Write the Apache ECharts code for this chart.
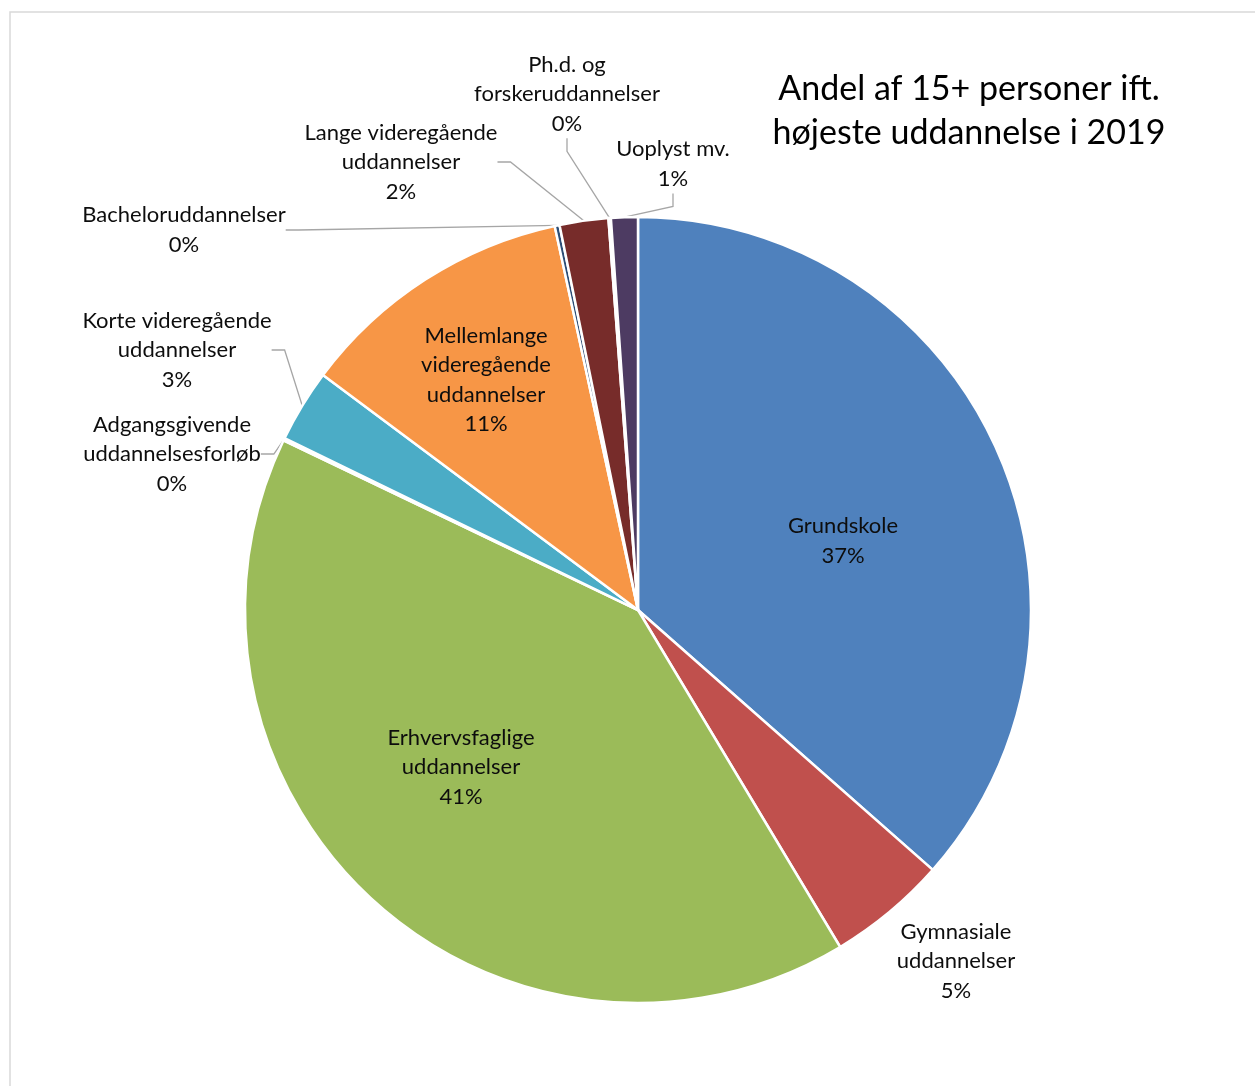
<!DOCTYPE html>
<html>
<head>
<meta charset="utf-8">
<script src="https://cdn.jsdelivr.net/npm/echarts@6/dist/echarts.min.js"></script>
<style>
html,body{margin:0;padding:0;background:#fff;}
#chart{width:1255px;height:1086px;}
</style>
</head>
<body>
<div id="chart"></div>
<script>
// Categories (label text as shown, with line breaks)
const categories = [
  'Grundskole',
  'Gymnasiale\nuddannelser',
  'Erhvervsfaglige\nuddannelser',
  'Adgangsgivende\nuddannelsesforløb',
  'Korte videregående\nuddannelser',
  'Mellemlange\nvideregående\nuddannelser',
  'Bacheloruddannelser',
  'Lange videregående\nuddannelser',
  'Ph.d. og\nforskeruddannelser',
  'Uoplyst mv.'
];
// Shares in percent
const shares = [36.5, 4.9, 40.7, 0.1, 3.0, 11.4, 0.2, 2.0, 0.1, 1.1];
const colors = ['#4F81BD', '#C0504D', '#9BBB59', '#8064A2', '#4BACC6', '#F79646', '#2C4D75', '#772C2A', '#5F7530', '#4D3B62'];
const titleText = 'Andel af 15+ personer ift.\nhøjeste uddannelse i 2019';

// label layout (text block centres) and label modes
const labelPos = [[843,541],[956,961],[461,767],[172,454],[177,350],[486,380],[184,230],[401,162],[567,94],[673,164]];
const insideIdx = [0, 2, 5];
const noLineIdx = [1];

const total = shares.reduce((a, b) => a + b, 0);
const FONT = 'Lato, "Open Sans", sans-serif';

const data = categories.map((name, i) => ({
  name: name,
  value: shares[i],
  itemStyle: { color: colors[i] },
  label: { position: insideIdx.includes(i) ? 'inside' : 'outside' },
  labelLine: { show: !(insideIdx.includes(i) || noLineIdx.includes(i)) }
}));

const chart = echarts.init(document.getElementById('chart'), null, { renderer: 'canvas' });
chart.setOption({
  animation: false,
  backgroundColor: '#ffffff',
  graphic: [{
    type: 'rect', silent: true, z: -1,
    shape: { x: 10, y: 12, width: 1300, height: 1200 },
    style: { fill: 'none', stroke: '#d9d9d9', lineWidth: 1.5 }
  }],
  title: {
    text: titleText,
    left: 964, top: 62, textAlign: 'center',
    textStyle: { fontFamily: FONT, fontSize: 34, fontWeight: 'normal', color: '#000', lineHeight: 44 }
  },
  series: [{
    type: 'pie',
    center: [638, 610],
    radius: [0, 393],
    startAngle: 90,
    clockwise: true,
    avoidLabelOverlap: false,
    itemStyle: { borderColor: '#ffffff', borderWidth: 2.5 },
    label: {
      fontFamily: FONT, fontSize: 22, color: '#0d0d0d', lineHeight: 29.5,
      formatter: p => p.name + '\n' + Math.round(p.value / total * 100) + '%'
    },
    labelLine: { length: 10, length2: 13, lineStyle: { color: '#a6a6a6', width: 1.3 } },
    labelLayout: function (p) {
      const pos = labelPos[p.dataIndex];
      return { x: pos[0], y: pos[1], align: 'center', verticalAlign: 'middle' };
    },
    data: data
  }]
});
</script>
</body>
</html>
